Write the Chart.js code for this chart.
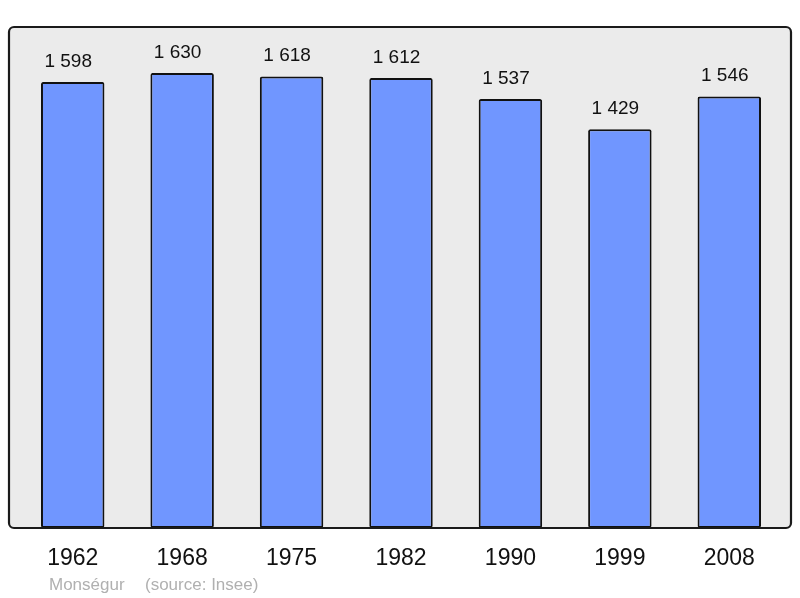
<!DOCTYPE html>
<html>
<head>
<meta charset="utf-8">
<style>
html,body{margin:0;padding:0;background:#fff;}
#wrap{width:800px;height:598px;position:relative;}
</style>
<script src="https://cdn.jsdelivr.net/npm/chart.js@4/dist/chart.umd.min.js"></script>
</head>
<body>
<div id="wrap"><canvas id="c" width="800" height="598"></canvas></div>
<script>
const years = ["1962","1968","1975","1982","1990","1999","2008"];
const population = [1598,1630,1618,1612,1537,1429,1546];
const townName = "Monségur";
const sourceText = "(source: Insee)";

function fmt(v){ return String(v).replace(/\B(?=(\d{3})+(?!\d))/g, " "); }

const decor = {
  id:'decor',
  beforeDatasetsDraw(chart){
    const ctx = chart.ctx;
    ctx.save();
    ctx.beginPath();
    ctx.roundRect(9, 27, 782, 501, 5);
    ctx.fillStyle = '#ebebeb';
    ctx.fill();
    ctx.restore();
  },
  afterDatasetsDraw(chart){
    const ctx = chart.ctx;
    ctx.save();
    ctx.beginPath();
    ctx.roundRect(9, 27, 782, 501, 5);
    ctx.lineWidth = 2.2;
    ctx.strokeStyle = '#1a1a1a';
    ctx.stroke();
    const meta = chart.getDatasetMeta(0);
    ctx.fillStyle = '#111';
    ctx.textAlign = 'center';
    ctx.textBaseline = 'alphabetic';
    ctx.font = '19px "Liberation Sans", Arial, sans-serif';
    meta.data.forEach((bar, i) => {
      ctx.fillText(fmt(population[i]), bar.x - 4.5, bar.y - 15);
    });
    ctx.font = '23px "Liberation Sans", Arial, sans-serif';
    const xs = chart.scales.x;
    years.forEach((y, i) => {
      ctx.fillText(y, xs.getPixelForValue(i), 565);
    });
    ctx.fillStyle = '#b0b0b0';
    ctx.textAlign = 'left';
    ctx.font = '17px "Liberation Sans", Arial, sans-serif';
    ctx.fillText(townName, 49, 590);
    ctx.fillText(sourceText, 145, 590);
    ctx.restore();
  }
};

new Chart(document.getElementById('c'), {
  type: 'bar',
  data: {
    labels: years,
    datasets: [{
      data: population,
      backgroundColor: '#7096ff',
      borderColor: '#111',
      borderWidth: 2,
      borderRadius: 2,
      borderSkipped: false,
      categoryPercentage: 1,
      barPercentage: 0.58
    }]
  },
  options: {
    responsive: false,
    animation: false,
    devicePixelRatio: 1,
    layout: { padding: { left: 18, right: 16, top: 27, bottom: 70 } },
    plugins: { legend: { display: false }, tooltip: { enabled: false } },
    scales: {
      x: { display: false, offset: true },
      y: { display: false, min: 0, max: 1795 }
    }
  },
  plugins: [decor]
});
</script>
</body>
</html>
